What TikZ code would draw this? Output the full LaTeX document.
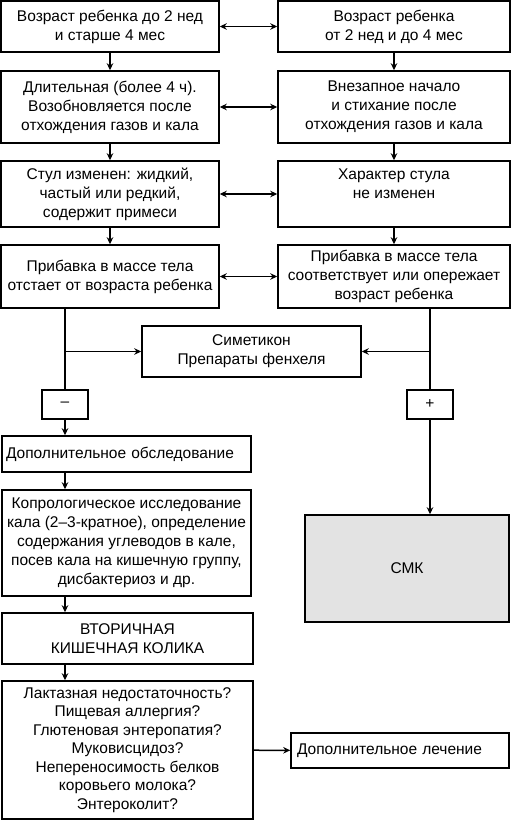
\documentclass[tikz,border=0pt]{standalone}
\usepackage{fontspec}
\setmainfont{Liberation Sans}
\usetikzlibrary{arrows.meta}
\tikzset{
  box/.style={draw, line width=1.5pt, align=center, inner sep=1pt,
    font=\fontsize{15.5}{19}\selectfont},
  arr/.style={-{Stealth[length=7pt,width=6.5pt]}, line width=1.5pt},
  both/.style={{Stealth[length=7pt,width=6.5pt]}-{Stealth[length=7pt,width=6.5pt]}, line width=1.5pt}
}
\begin{document}
\begin{tikzpicture}[x=1pt, y=-1pt]
\useasboundingbox (0,0) rectangle (531,824);

\node[box, minimum width=218pt, minimum height=51pt] (l1) at (110,26.5) {Возраст ребенка до 2 нед\\и старше 4 мес};
\node[box, minimum width=232pt, minimum height=51pt] (r1) at (394,26.5) {Возраст ребенка\\от 2 нед и до 4 мес};

\node[box, minimum width=218pt, minimum height=72pt] (l2) at (110,107) {Длительная (более 4 ч).\\Возобновляется после\\отхождения газов и кала};
\node[box, minimum width=232pt, minimum height=72pt] (r2) at (394,107) {Внезапное начало\\и стихание после\\отхождения газов и кала};

\node[box, minimum width=218pt, minimum height=66pt] (l3) at (110,194) {Стул изменен: жидкий,\\частый или редкий,\\содержит примеси};
\node[box, minimum width=232pt, minimum height=66pt, text depth=20pt] (r3) at (394,194) {Характер стула\\не изменен};

\node[box, minimum width=218pt, minimum height=63pt] (l4) at (110,276.5) {Прибавка в массе тела\\отстает от возраста ребенка};
\node[box, minimum width=232pt, minimum height=63pt] (r4) at (394,276.5) {Прибавка в массе тела\\соответствует или опережает\\возраст ребенка};

\node[box, minimum width=219pt, minimum height=51pt] (sim) at (251.5,351.5) {Симетикон\\Препараты фенхеля};

\node[box, minimum width=46pt, minimum height=29pt] (minus) at (65,404.5) {--};
\node[box, minimum width=46pt, minimum height=29pt] (plus) at (430,404.5) {+};

\node[box, minimum width=249pt, minimum height=36pt, align=left, text width=241pt] (dop) at (126.5,454) {Дополнительное обследование};
\node[box, minimum width=249pt, minimum height=106pt] (kopro) at (126.5,543) {Копрологическое исследование\\кала (2--3-кратное), определение\\содержания углеводов в кале,\\посев кала на кишечную группу,\\дисбактериоз и др.};

\node[box, minimum width=204pt, minimum height=107pt, fill=black!11] (smk) at (407,568.5) {СМК};

\node[box, minimum width=251pt, minimum height=51pt] (vtor) at (127.5,638.5) {ВТОРИЧНАЯ\\КИШЕЧНАЯ КОЛИКА};
\node[box, minimum width=251pt, minimum height=138pt, font=\fontsize{15.5}{18.5}\selectfont] (lact) at (127.5,750) {Лактазная недостаточность?\\Пищевая аллергия?\\Глютеновая энтеропатия?\\Муковисцидоз?\\Непереносимость белков\\коровьего молока?\\Энтероколит?};
\node[box, minimum width=218pt, minimum height=35pt, align=left, text width=206pt] (lech) at (400,750.5) {Дополнительное лечение};

\draw[both] (l1) -- (r1);
\draw[both] (l2) -- (r2);
\draw[both] (l3) -- (r3);
\draw[both] (l4) -- (r4);

\draw[arr] (l1) -- (l2);
\draw[arr] (l2) -- (l3);
\draw[arr] (l3) -- (l4);
\draw[arr] (r1) -- (r2);
\draw[arr] (r2) -- (r3);
\draw[arr] (r3) -- (r4);

\draw[line width=1.5pt] (minus |- l4.south) -- (minus);
\draw[line width=1.5pt] (plus |- r4.south) -- (plus);
\draw[arr] (minus |- sim) -- (sim);
\draw[arr] (plus |- sim) -- (sim);

\draw[arr] (minus) -- (minus |- dop.north);
\draw[arr] (minus |- dop.south) -- (minus |- kopro.north);
\draw[arr] (minus |- kopro.south) -- (minus |- vtor.north);
\draw[arr] (minus |- vtor.south) -- (minus |- lact.north);
\draw[arr] (plus) -- (plus |- smk.north);
\draw[arr] (lact) -- (lech);
\end{tikzpicture}
\end{document}
